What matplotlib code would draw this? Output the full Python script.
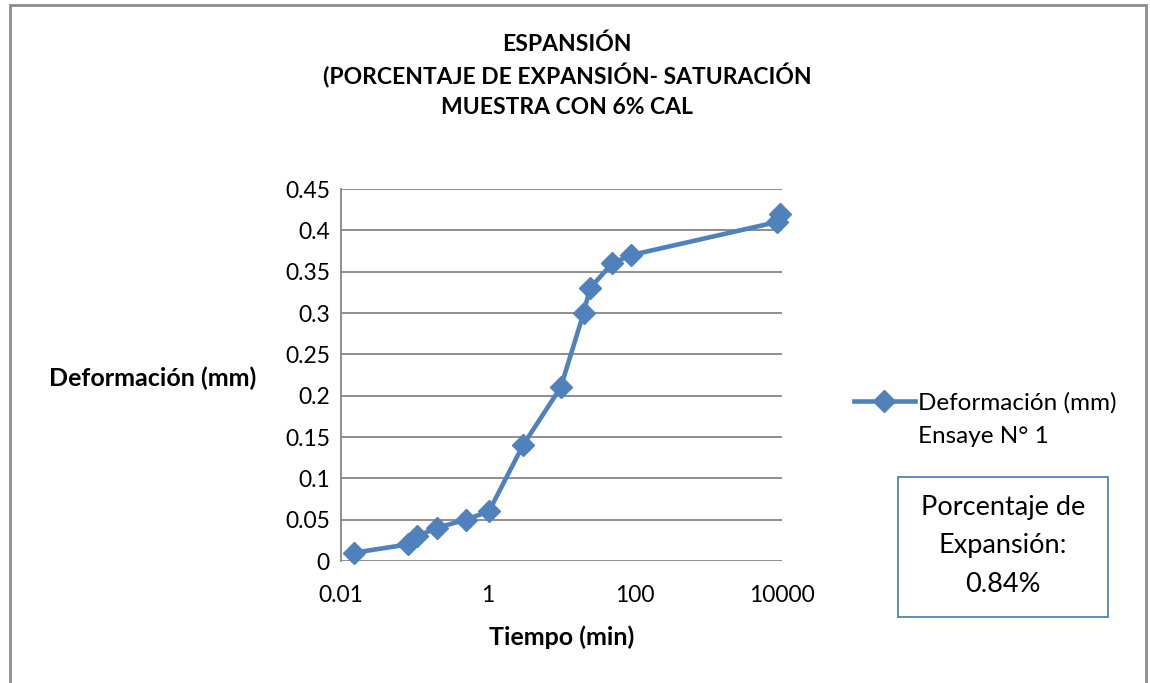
import matplotlib
matplotlib.use("Agg")
import matplotlib.pyplot as plt
from matplotlib.lines import Line2D
from matplotlib.patches import Rectangle
from matplotlib.ticker import FixedLocator, FixedFormatter, NullLocator

plt.rcParams["font.family"] = ["Lato", "DejaVu Sans"]

# data
tiempo_min = [0.015, 0.081, 0.109, 0.20, 0.50, 1.03, 2.99, 9.75, 20.0, 24.4, 49.0, 88.0, 8470.0, 9400.0]
deformacion_mm = [0.01, 0.02, 0.03, 0.04, 0.05, 0.06, 0.14, 0.21, 0.30, 0.33, 0.36, 0.37, 0.41, 0.42]

x_ticks = [0.01, 1, 100, 10000]
x_tick_labels = ["0.01", "1", "100", "10000"]
y_ticks = [0, 0.05, 0.1, 0.15, 0.2, 0.25, 0.3, 0.35, 0.4, 0.45]
y_tick_labels = ["0", "0.05", "0.1", "0.15", "0.2", "0.25", "0.3", "0.35", "0.4", "0.45"]

title_lines = ["ESPANSIÓN", "(PORCENTAJE DE EXPANSIÓN- SATURACIÓN", "MUESTRA CON 6% CAL"]
series_label = "Deformación (mm)"
series_label_2 = "Ensaye N° 1"
box_lines = ["Porcentaje de", "Expansión:", "0.84%"]

W, H = 1150, 683
BLUE = "#4F81BD"
GRID = "#868686"

fig = plt.figure(figsize=(W / 100, H / 100), dpi=100)
fig.patch.set_facecolor("white")

# outer chart border
fig.add_artist(Rectangle((10 / W, -0.01), 1136 / W, 1 - 5 / H + 0.01,
                         transform=fig.transFigure, fill=False,
                         edgecolor="#8c8c8c", linewidth=2))

ax = fig.add_axes([341 / W, 1 - 561 / H, 441 / W, 372 / H])
ax.set_xscale("log")
ax.set_xlim(0.01, 10000)
ax.set_ylim(0, 0.45)

ax.xaxis.set_major_locator(FixedLocator(x_ticks))
ax.xaxis.set_major_formatter(FixedFormatter(x_tick_labels))
ax.xaxis.set_minor_locator(NullLocator())
ax.yaxis.set_major_locator(FixedLocator(y_ticks))
ax.yaxis.set_major_formatter(FixedFormatter(y_tick_labels))

ax.tick_params(axis="both", length=0, labelsize=16.5, colors="black")
ax.tick_params(axis="x", pad=17)
ax.tick_params(axis="y", pad=8)

for side in ["top", "right", "bottom"]:
    ax.spines[side].set_visible(False)
ax.spines["left"].set_color(GRID)
ax.spines["left"].set_linewidth(1.3)

ax.grid(axis="y", color=GRID, linewidth=1.3)
ax.set_axisbelow(True)

ax.plot(tiempo_min, deformacion_mm, color=BLUE, linewidth=3.3,
        marker="D", markersize=11, markerfacecolor=BLUE, markeredgecolor=BLUE,
        clip_on=False, zorder=3, label=series_label)

for i, line in enumerate(title_lines):
    fig.text(567 / W, 1 - (44 + 32 * i) / H, line, ha="center", va="center",
             fontsize=16.5, fontweight="bold")
fig.text(153 / W, 1 - 378 / H, "Deformación (mm)", ha="center", va="center",
         fontsize=18, fontweight="bold")
fig.text(562 / W, 1 - 637 / H, "Tiempo (min)", ha="center", va="center",
         fontsize=18, fontweight="bold")

handles = [Line2D([], [], color=BLUE, linewidth=3.3, marker="D", markersize=11),
           Line2D([], [], color="none")]
fig.legend(handles, [series_label, series_label_2], loc="upper left",
           bbox_to_anchor=(854 / W, 1 - 392 / H), frameon=False,
           fontsize=17.5, handlelength=2.5, handletextpad=0.15,
           labelspacing=0.5, borderaxespad=0, borderpad=0)

for i, line in enumerate(box_lines):
    fig.text(1003 / W, 1 - (507 + 38.5 * i) / H, line, ha="center", va="center",
             fontsize=19.5)
fig.add_artist(Rectangle((898 / W, 1 - 617 / H), 210 / W, 140 / H,
                         transform=fig.transFigure, fill=False,
                         edgecolor=BLUE, linewidth=1.3))

fig.savefig("out.png", dpi=100)
